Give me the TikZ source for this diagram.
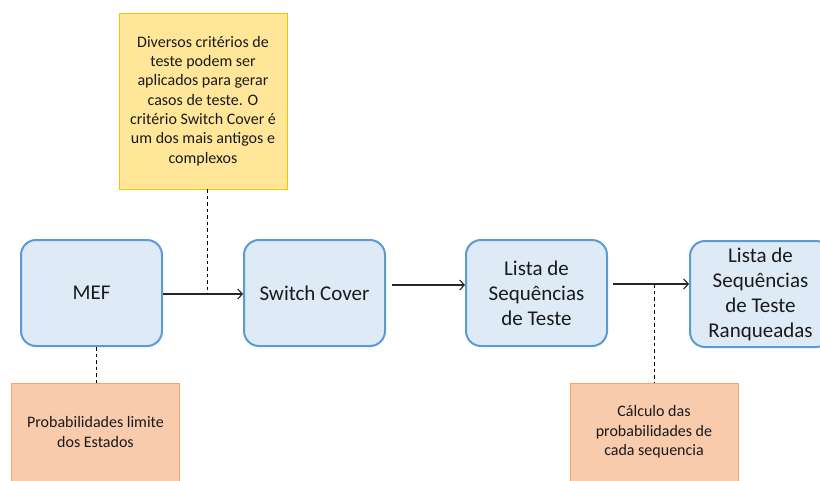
\documentclass[tikz,border=0pt]{standalone}
\usepackage{fontspec}
\setmainfont{Carlito}
\usetikzlibrary{arrows.meta}
\definecolor{procfill}{HTML}{DEEBF7}
\definecolor{procline}{HTML}{5B9BD5}
\definecolor{yfill}{HTML}{FFE699}
\definecolor{yline}{HTML}{FFC000}
\definecolor{ofill}{HTML}{F8CBAD}
\definecolor{oline}{HTML}{F4A46A}
\definecolor{txt}{HTML}{1A1A1A}
\begin{document}
\begin{tikzpicture}[x=1pt,y=-1pt,
  proc/.style={draw=procline, fill=procfill, line width=2pt, rounded corners=15pt,
    minimum width=141pt, minimum height=106pt, align=center, inner sep=0pt,
    text=txt, font=\fontsize{21}{25}\selectfont},
  ynote/.style={draw=yline, fill=yfill, line width=0.8pt, minimum width=168pt,
    minimum height=176pt, align=center, inner sep=0pt, text=txt,
    font=\fontsize{16}{19.3}\selectfont},
  onote/.style={draw=oline, fill=ofill, line width=1pt, minimum width=168pt,
    minimum height=98pt, align=center, inner sep=0pt, text=txt,
    font=\fontsize{16}{19.3}\selectfont},
  arr/.style={draw=black!85, line width=1.1pt, -{Straight Barb[length=4.5pt,width=10pt,line width=1.1pt]}},
  dsh/.style={draw=black, line width=0.9pt, dash pattern=on 3.5pt off 3pt}]
\useasboundingbox (0,0) rectangle (820,480);
\fill[white] (0,0) rectangle (820,480);

\node[ynote] (n1) at (203,101) {Diversos critérios de\\teste podem ser\\aplicados para gerar\\casos de teste. O\\critério Switch Cover é\\um dos mais antigos e\\complexos};
\node[onote] (n2) at (95.5,432) {Probabilidades limite\\dos Estados};
\node[onote] (n3) at (654,432) {Cálculo das\\probabilidades de\\cada sequencia};

\node[proc] (mef) at (91.5,293) {MEF};
\node[proc] (sc) at (314.5,293) {Switch Cover};
\node[proc] (lst) at (536.5,293) {Lista de\\Sequências\\de Teste};
\node[proc] (rk) at (760.5,294) {Lista de\\Sequências\\de Teste\\Ranqueadas};

\coordinate (a1) at (162,294);
\coordinate (a2) at (392,285);
\coordinate (a3) at (613,284);
\draw[arr] (a1 -| mef.east) -- (a1 -| sc.west);
\draw[arr] (a2) -- (a2 -| lst.west);
\draw[arr] (a3) -- (a3 -| rk.west);

\coordinate (d1) at (207,294);
\coordinate (d2) at (96,346);
\coordinate (d3) at (654,284);
\draw[dsh] (d1 |- n1.south) -- (d1);
\draw[dsh] (d2 |- mef.south) -- (d2 |- n2.north);
\draw[dsh] (d3) -- (d3 |- n3.north);
\end{tikzpicture}
\end{document}
